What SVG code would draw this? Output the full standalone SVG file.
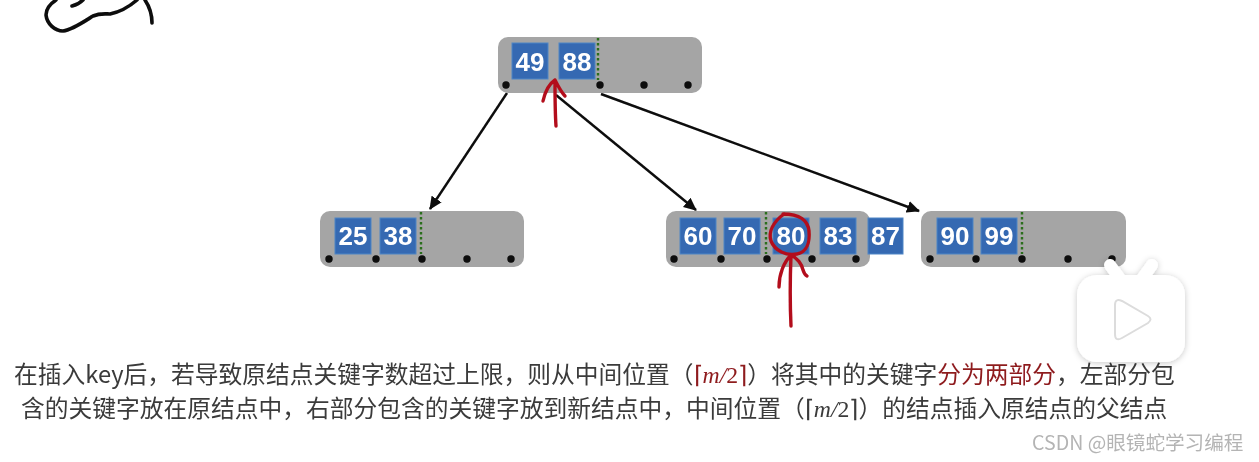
<svg xmlns="http://www.w3.org/2000/svg" width="1259" height="462" viewBox="0 0 1259 462">
<style>
.body{fill:#a5a5a5}
.key{fill:#3469b2;stroke:#4f86c6;stroke-width:1}
.num{font:700 26px "Liberation Sans",Arial,sans-serif;fill:#fff;text-anchor:middle}
.dot{fill:#0a0a0a}
.div{stroke:#2c6e1c;stroke-width:2.4;stroke-dasharray:2.5 2.5;fill:none}
.edge{stroke:#0a0a0a;stroke-width:2.4;fill:none;marker-end:url(#arr)}
.ink{stroke:#b3111c;stroke-width:3.4;fill:none;stroke-linecap:round;stroke-linejoin:round}
.scribble{stroke:#0a0a0a;stroke-width:3.6;fill:none;stroke-linecap:round}
.t{font:23.75px "Noto Sans CJK SC","Liberation Sans",sans-serif;fill:#3a3a3a}
.m{font-family:"Liberation Serif","Noto Sans CJK SC",serif}
.wm{font:19.6px "Noto Sans CJK SC","Liberation Sans",sans-serif;fill:#b4b4b4}
</style>
<defs>
<marker id="arr" markerUnits="userSpaceOnUse" markerWidth="14" markerHeight="12" refX="12" refY="6" orient="auto"><path d="M0 0L13 6L0 12z" fill="#0a0a0a"/></marker>
<filter id="soft" x="-5%" y="-5%" width="110%" height="110%"><feGaussianBlur stdDeviation="0.45"/></filter>
<filter id="sh" x="-20%" y="-20%" width="140%" height="140%"><feDropShadow dx="0" dy="1" stdDeviation="3" flood-color="#000" flood-opacity="0.22"/></filter>
</defs>
<g filter="url(#soft)">
<g id="connectors">
<path class="edge" d="M507 93L430 209"/>
<path class="edge" d="M556 95L696 210"/>
<path class="edge" d="M601 94L919 211"/>
</g>
<g id="node-top">
<rect class="body" x="498" y="37" width="204" height="56" rx="10"/>
<rect class="key" x="512" y="43" width="36" height="36"/><text class="num" x="530" y="71">49</text>
<rect class="key" x="559" y="43" width="36" height="36"/><text class="num" x="577" y="71">88</text>
<path class="div" d="M598 38V80"/>
<circle class="dot" cx="506" cy="85" r="3.7"/><circle class="dot" cx="600" cy="85" r="3.7"/><circle class="dot" cx="644" cy="85" r="3.7"/><circle class="dot" cx="688" cy="85" r="3.7"/>
</g>
<g id="node-left">
<rect class="body" x="320" y="211" width="204" height="56" rx="10"/>
<rect class="key" x="335" y="218" width="36" height="36"/><text class="num" x="353" y="245">25</text>
<rect class="key" x="380" y="218" width="36" height="36"/><text class="num" x="398" y="245">38</text>
<path class="div" d="M421 212V254"/>
<circle class="dot" cx="329" cy="259" r="3.7"/><circle class="dot" cx="376" cy="259" r="3.7"/><circle class="dot" cx="422" cy="259" r="3.7"/><circle class="dot" cx="467" cy="259" r="3.7"/><circle class="dot" cx="511" cy="259" r="3.7"/>
</g>
<g id="node-middle">
<rect class="body" x="666" y="211" width="204" height="56" rx="10"/>
<rect class="key" x="680" y="218" width="36" height="36"/><text class="num" x="698" y="245">60</text>
<rect class="key" x="724" y="218" width="36" height="36"/><text class="num" x="742" y="245">70</text>
<rect class="key" x="773" y="218" width="36" height="36"/><text class="num" x="791" y="245">80</text>
<rect class="key" x="820" y="218" width="36" height="36"/><text class="num" x="838" y="245">83</text>
<rect class="key" x="868" y="218" width="35" height="36"/><text class="num" x="885.500" y="245">87</text>
<path class="div" d="M766 212V254"/>
<circle class="dot" cx="674" cy="259" r="3.7"/><circle class="dot" cx="721" cy="259" r="3.7"/><circle class="dot" cx="767" cy="259" r="3.7"/><circle class="dot" cx="812" cy="259" r="3.7"/><circle class="dot" cx="856" cy="259" r="3.7"/>
</g>
<g id="node-right">
<rect class="body" x="921" y="211" width="205" height="56" rx="10"/>
<rect class="key" x="937" y="218" width="36" height="36"/><text class="num" x="955" y="245">90</text>
<rect class="key" x="981" y="218" width="36" height="36"/><text class="num" x="999" y="245">99</text>
<path class="div" d="M1022 212V254"/>
<circle class="dot" cx="930" cy="259" r="3.7"/><circle class="dot" cx="976" cy="259" r="3.7"/><circle class="dot" cx="1022" cy="259" r="3.7"/><circle class="dot" cx="1068" cy="259" r="3.7"/><circle class="dot" cx="1112" cy="259" r="3.7"/>
</g>
<path class="ink" d="M556 126C555 112 555 96 555 80M543 101C545 92 549 84 555 80C558 86 561 92 565 96"/>
<path class="ink" d="M784 214C773 222 768 232 771 241C775 251 786 256 797 254C807 252 810 242 809 231C808 221 800 214 783 214"/>
<path class="ink" d="M791 326C790 305 790 280 791 255M779 287C779 274 784 262 791 255C797 258 802 264 803 270C804 273 805 275 807 276"/>
<path class="scribble" d="M56 0C50 4 46 10 46 15C47 24 55 31 63 31C72 30 85 21 93 16C100 13 105 14 110 14C120 12 130 6 137 0M72 6C76 5 80 3 83 0M145 0C149 6 152 14 152 23"/>
<text class="t" x="14" y="383">在插入key后，若导致原结点关键字数超过上限，则从中间位置（<tspan fill="#8e1a1e"><tspan class="m">⌈</tspan><tspan class="m" font-style="italic">m</tspan><tspan class="m" font-style="italic">/</tspan><tspan class="m">2⌉</tspan></tspan>）将其中的关键字<tspan fill="#8e1a1e">分为两部分</tspan>，左部分包</text>
<text class="t" x="21" y="417">含的关键字放在原结点中，右部分包含的关键字放到新结点中，中间位置（<tspan class="m">⌈</tspan><tspan class="m" font-style="italic">m</tspan><tspan class="m" font-style="italic">/</tspan><tspan class="m">2⌉</tspan>）的结点插入原结点的父结点</text>
<text class="wm" x="1032" y="450">CSDN @眼镜蛇学习编程</text>
</g>
<g id="play-badge" filter="url(#sh)">
<path d="M1110 265L1123 283M1152 265L1139 283" stroke="#fff" stroke-width="12" stroke-linecap="round" fill="none"/>
<rect x="1077" y="275" width="108" height="87" rx="20" fill="#fff"/>
</g>
<path d="M1115 305Q1115 298 1122 301L1148 316Q1153 319 1148 323L1122 338Q1115 342 1115 334Z" fill="#fff" stroke="#dcdcdc" stroke-width="2"/>
</svg>
